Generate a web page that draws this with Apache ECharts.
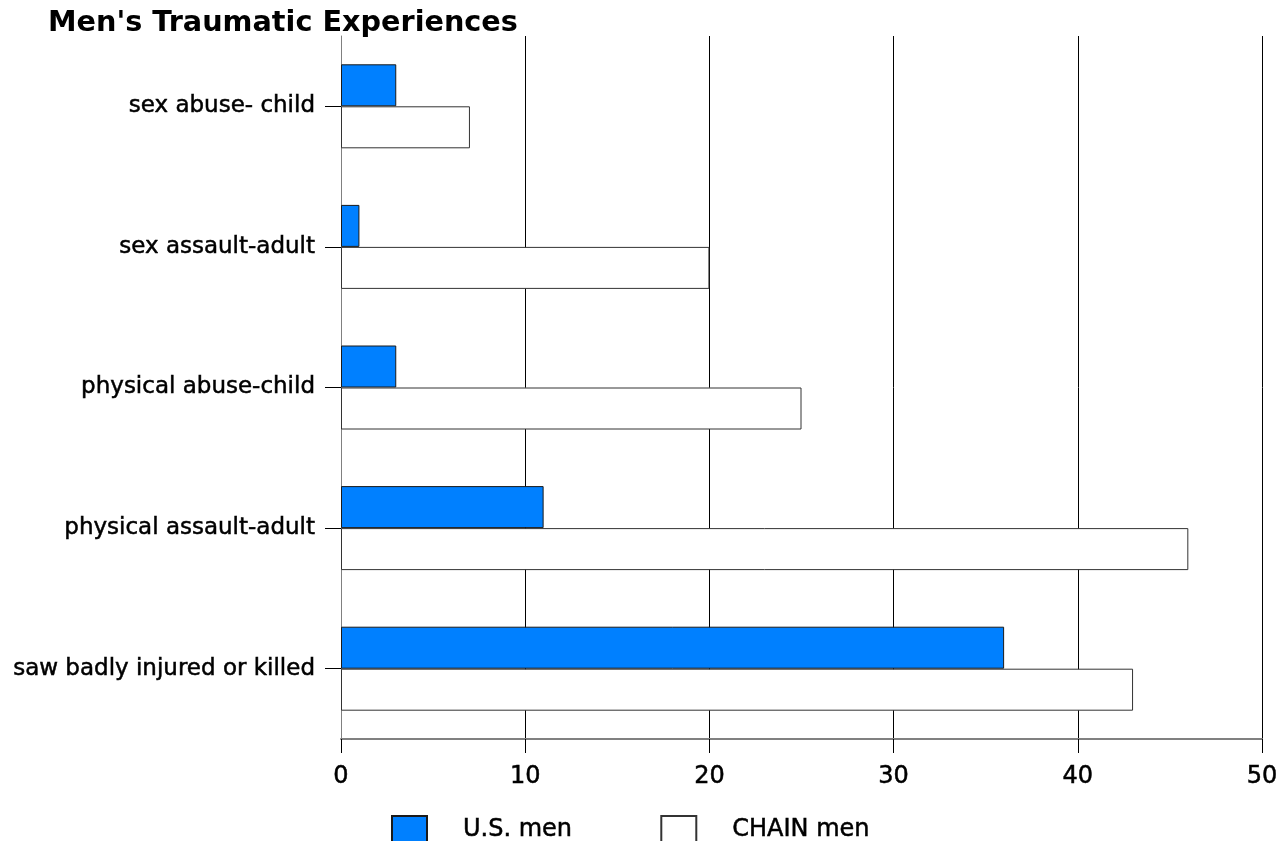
<!DOCTYPE html>
<html>
<head>
<meta charset="utf-8">
<script src="https://cdn.jsdelivr.net/npm/echarts@6/dist/echarts.min.js"></script>
<style>
html,body{margin:0;padding:0;background:#fff;}
#c{width:1283px;height:841px;}
</style>
</head>
<body>
<div id="c"></div>
<script>
const titleText = "Men's Traumatic Experiences";
const categories = ['sex abuse- child','sex assault-adult','physical abuse-child','physical assault-adult','saw badly injured or killed'];
const usMen = [3, 1, 3, 11, 36];
const chainMen = [7, 20, 25, 46, 43];
const seriesNames = ['U.S. men', 'CHAIN men'];
const xTicks = { min: 0, max: 50, interval: 10 };

const chart = echarts.init(document.getElementById('c'));
const font = 'DejaVu Sans';
const thick = { textBorderColor: '#000', textBorderWidth: 0.5 };
chart.setOption({
  backgroundColor: '#fff',
  animation: false,
  title: {
    text: titleText, left: 48, top: 4, padding: [5, 0, 0, 0],
    textStyle: { fontFamily: font, fontWeight: 'bold', fontSize: 28.7, color: '#000' }
  },
  legend: {
    data: seriesNames, left: 391, top: 815, padding: 0, icon: 'rect',
    itemWidth: 35, itemHeight: 28, itemGap: 88,
    textStyle: Object.assign({ fontFamily: font, fontSize: 24, color: '#000', padding: [0, 0, 0, 31] }, thick)
  },
  grid: { left: 341, right: 21, top: 36, bottom: 102, containLabel: false },
  xAxis: {
    type: 'value', min: xTicks.min, max: xTicks.max, interval: xTicks.interval,
    axisLine: { show: true, lineStyle: { color: '#808080', width: 2 } },
    axisTick: { show: true, length: 14, lineStyle: { color: '#000' } },
    axisLabel: Object.assign({ margin: 26, fontFamily: font, fontSize: 24, color: '#000' }, thick),
    splitLine: { show: true, lineStyle: { color: ['#808080','#000','#000','#000','#000','#000'], width: 1 } }
  },
  yAxis: {
    type: 'category', data: categories, inverse: true,
    axisLine: { show: true, lineStyle: { color: '#808080', width: 1 } },
    axisTick: { show: true, alignWithLabel: true, length: 16, lineStyle: { color: '#000' } },
    axisLabel: Object.assign({ margin: 26, fontFamily: font, fontSize: 23, color: '#000' }, thick),
    splitLine: { show: false }
  },
  series: [
    { name: seriesNames[0], type: 'bar', data: usMen, barWidth: 42, barGap: '0%',
      itemStyle: { color: '#0080FF', borderColor: '#1a1a1a', borderWidth: 1 } },
    { name: seriesNames[1], type: 'bar', data: chainMen, barWidth: 42, barGap: '0%',
      itemStyle: { color: '#ffffff', borderColor: '#333', borderWidth: 1 } }
  ]
});
</script>
</body>
</html>
